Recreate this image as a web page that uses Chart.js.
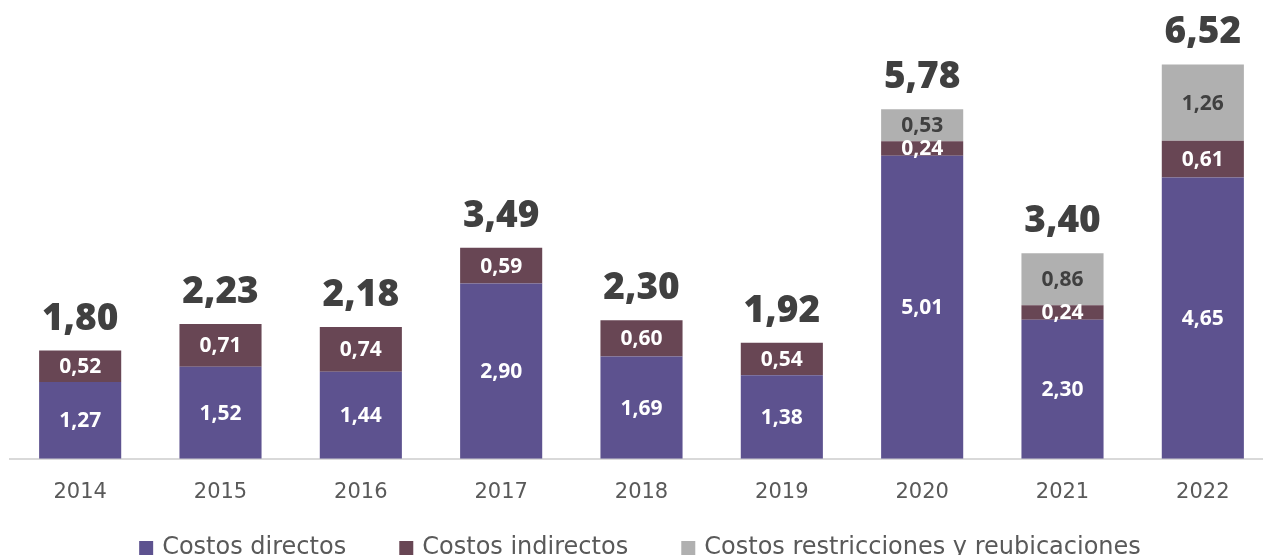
<!DOCTYPE html>
<html>
<head>
<meta charset="utf-8">
<script src="https://cdn.jsdelivr.net/npm/chart.js@4.4.0/dist/chart.umd.min.js"></script>
<style>
  html, body { margin: 0; padding: 0; background: #fff; overflow: hidden; }
  #wrap { width: 1273px; height: 570px; }
</style>
</head>
<body>
<div id="wrap"><canvas id="myChart"></canvas></div>
<script>
var years = ['2014', '2015', '2016', '2017', '2018', '2019', '2020', '2021', '2022']
var directos = [1.27, 1.52, 1.44, 2.90, 1.69, 1.38, 5.01, 2.30, 4.65]
var indirectos = [0.52, 0.71, 0.74, 0.59, 0.60, 0.54, 0.24, 0.24, 0.61]
var restricciones = [null, null, null, null, null, null, 0.53, 0.86, 1.26]
var totales = [1.80, 2.23, 2.18, 3.49, 2.30, 1.92, 5.78, 3.40, 6.52]
var series = ['Costos directos', 'Costos indirectos', 'Costos restricciones y reubicaciones']

var FONT = "'DejaVu Sans', sans-serif"
var BOLD = "'Open Sans', sans-serif"
var GAP = '\u00a0\u00a0\u00a0\u00a0\u00a0'

function fmt(v) {
  return v.toFixed(2).replace('.', ',')
}

// labels inside each segment and totals above the stack
var labelPlugin = {
  id: 'labels',
  afterDatasetsDraw: function(chart) {
    var ctx = chart.ctx
    ctx.save()
    ctx.textAlign = 'center'
    chart.data.datasets.forEach(function(ds, di) {
      var meta = chart.getDatasetMeta(di)
      meta.data.forEach(function(el, i) {
        var v = ds.data[i]
        if (v == null) return
        ctx.font = 'bold 21px ' + BOLD
        ctx.fillStyle = ds.labelColor
        ctx.textBaseline = 'middle'
        ctx.fillText(fmt(v), el.x, (el.y + el.base) / 2 + 1)
      })
    })
    // totals
    var last = chart.data.datasets.length - 1
    totales.forEach(function(t, i) {
      var top = null
      for (var d = last; d >= 0; d--) {
        if (chart.data.datasets[d].data[i] != null) {
          top = chart.getDatasetMeta(d).data[i].y
          break
        }
      }
      ctx.font = '800 37px ' + BOLD
      ctx.fillStyle = '#404040'
      ctx.textBaseline = 'alphabetic'
      ctx.fillText(fmt(t), chart.getDatasetMeta(0).data[i].x, top - 21)
    })
    ctx.restore()
  }
}

var chart = new Chart(document.getElementById('myChart'), {
  type: 'bar',
  data: {
    labels: years,
    datasets: [
      { label: series[0], data: directos, backgroundColor: '#5D528F', labelColor: '#ffffff' },
      { label: series[1], data: indirectos, backgroundColor: '#684654', labelColor: '#ffffff' },
      { label: series[2], data: restricciones, backgroundColor: '#B0B0B0', labelColor: '#404040' }
    ]
  },
  options: {
    responsive: true,
    maintainAspectRatio: false,
    animation: false,
    datasets: { bar: { barPercentage: 0.585, categoryPercentage: 1 } },
    layout: { padding: { left: 10, right: 0, top: 0, bottom: 0 } },
    scales: {
      x: {
        stacked: true,
        grid: { display: false },
        border: { display: true, color: '#d9d9d9', width: 2 },
        ticks: { color: '#595959', font: { family: FONT, size: 21 }, padding: 13 }
      },
      y: {
        stacked: true,
        display: false,
        min: 0,
        max: 7.585
      }
    },
    plugins: {
      tooltip: { enabled: false },
      legend: {
        position: 'bottom',
        labels: {
          color: '#595959',
          font: { family: FONT, size: 24 },
          usePointStyle: true,
          pointStyle: 'rect',
          boxWidth: 8,
          boxHeight: 14,
          padding: 18,
          generateLabels: function(chart) {
            return chart.data.datasets.map(function(ds, i) {
              return {
                text: i < chart.data.datasets.length - 1 ? ds.label + GAP : ds.label,
                fillStyle: ds.backgroundColor,
                strokeStyle: ds.backgroundColor,
                lineWidth: 0,
                pointStyle: 'rect',
                fontColor: '#595959',
                datasetIndex: i
              }
            })
          }
        }
      }
    }
  },
  plugins: [labelPlugin]
})
</script>
</body>
</html>
